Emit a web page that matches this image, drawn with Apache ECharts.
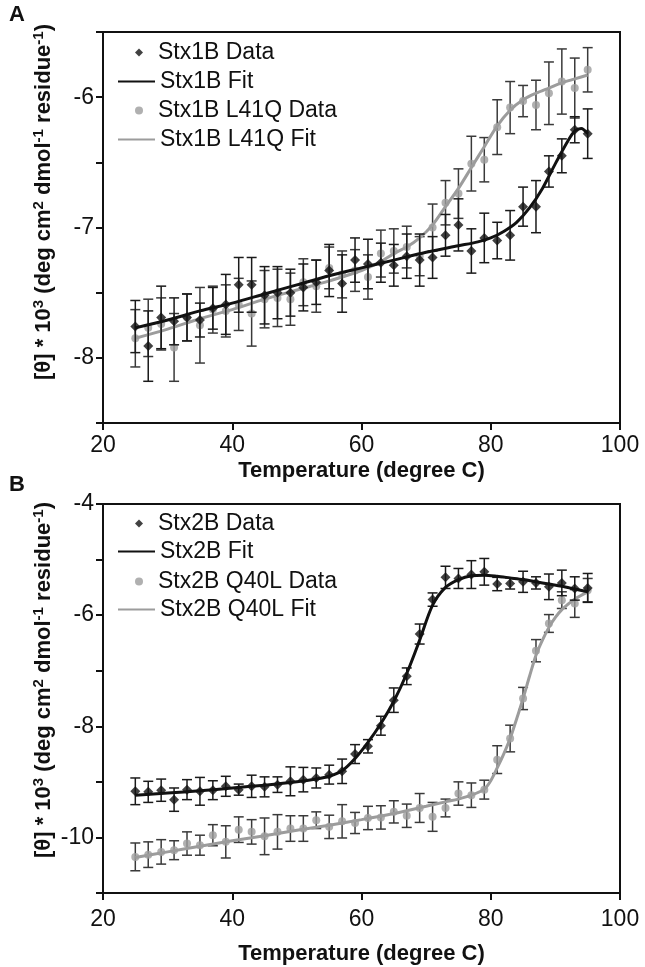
<!DOCTYPE html>
<html>
<head>
<meta charset="utf-8">
<script src="https://cdn.jsdelivr.net/npm/echarts@6/dist/echarts.min.js"></script>
<style>
  html, body { margin: 0; padding: 0; background: #fff; }
  #main { width: 645px; height: 967px; }
</style>
</head>
<body>
<div id="main"></div>
<script>
// temperatures (degree C) shared by all data sets
var temps = [25, 27, 29, 31, 33, 35, 37, 39, 41, 43, 45, 47, 49, 51, 53, 55, 57, 59,
             61, 63, 65, 67, 69, 71, 73, 75, 77, 79, 81, 83, 85, 87, 89, 91, 93, 95];

// panel A - Stx1B
var stx1bData = [-7.76, -7.91, -7.69, -7.72, -7.69, -7.71, -7.62, -7.59, -7.44, -7.44, -7.52, -7.50,
                 -7.50, -7.46, -7.42, -7.33, -7.43, -7.25, -7.28, -7.27, -7.29, -7.22, -7.25, -7.23,
                 -7.06, -6.98, -7.18, -7.08, -7.10, -7.06, -6.84, -6.84, -6.57, -6.45, -6.25, -6.28];
var stx1bErr = [0.2, 0.27, 0.24, 0.18, 0.18, 0.13, 0.16, 0.23, 0.21, 0.21, 0.22, 0.2,
                0.18, 0.18, 0.17, 0.2, 0.22, 0.17, 0.19, 0.15, 0.16, 0.17, 0.2, 0.16,
                0.16, 0.2, 0.17, 0.19, 0.14, 0.19, 0.15, 0.2, 0.12, 0.13, 0.1, 0.19];
var stx1bFitT = [25, 30, 35, 40, 45, 50, 55, 60, 65, 70, 75, 78, 80, 82, 84, 86, 88, 90, 92, 93, 94, 95];
var stx1bFitV = [-7.77, -7.71, -7.64, -7.58, -7.51, -7.44, -7.37, -7.31, -7.25, -7.19, -7.14, -7.11,
                 -7.08, -7.03, -6.96, -6.85, -6.70, -6.51, -6.33, -6.26, -6.24, -6.28];

// panel A - Stx1B L41Q
var l41qData = [-7.85, -7.77, -7.74, -7.92, -7.69, -7.75, -7.63, -7.64, -7.59, -7.66, -7.55, -7.54,
                -7.55, -7.42, -7.45, -7.31, -7.36, -7.33, -7.38, -7.20, -7.18, -7.15, -7.22, -7.00,
                -6.81, -6.74, -6.51, -6.48, -6.23, -6.08, -6.03, -6.06, -5.97, -5.88, -5.93, -5.79];
var l41qErr = [0.22, 0.22, 0.2, 0.26, 0.18, 0.29, 0.18, 0.2, 0.2, 0.25, 0.22, 0.22,
               0.2, 0.18, 0.2, 0.16, 0.18, 0.16, 0.17, 0.18, 0.17, 0.16, 0.15, 0.18,
               0.17, 0.19, 0.21, 0.17, 0.21, 0.2, 0.12, 0.19, 0.24, 0.25, 0.23, 0.17];
var l41qFitT = [25, 30, 35, 40, 45, 50, 55, 60, 63, 65, 67, 69, 71, 73, 75, 77, 79, 81, 83, 85, 87, 89, 91, 93, 95];
var l41qFitV = [-7.85, -7.78, -7.70, -7.63, -7.55, -7.48, -7.41, -7.33, -7.26, -7.20, -7.15, -7.08, -6.98,
                -6.84, -6.70, -6.54, -6.38, -6.22, -6.10, -6.02, -5.97, -5.93, -5.89, -5.86, -5.83];

// panel B - Stx2B
var stx2bData = [-9.17, -9.18, -9.15, -9.32, -9.14, -9.17, -9.15, -9.08, -9.14, -9.08, -9.09, -9.05,
                 -8.99, -8.96, -8.93, -8.87, -8.81, -8.50, -8.36, -7.99, -7.53, -7.10, -6.34, -5.72,
                 -5.32, -5.34, -5.27, -5.22, -5.44, -5.43, -5.40, -5.42, -5.49, -5.42, -5.52, -5.51];
var stx2bErr = [0.24, 0.19, 0.2, 0.21, 0.18, 0.25, 0.17, 0.18, 0.1, 0.2, 0.18, 0.14,
                0.26, 0.22, 0.18, 0.17, 0.22, 0.17, 0.12, 0.17, 0.22, 0.15, 0.18, 0.12,
                0.2, 0.18, 0.25, 0.24, 0.12, 0.1, 0.19, 0.11, 0.23, 0.23, 0.21, 0.26];
var stx2bFitT = [25, 30, 35, 40, 45, 50, 53, 55, 57, 59, 61, 63, 65, 67, 69, 71, 73, 75, 77, 79, 81, 83, 85, 87, 89, 91, 93, 95];
var stx2bFitV = [-9.24, -9.20, -9.16, -9.11, -9.06, -9.00, -8.95, -8.90, -8.80, -8.58, -8.29, -7.95, -7.55, -7.05,
                 -6.45, -5.82, -5.50, -5.36, -5.29, -5.28, -5.30, -5.33, -5.36, -5.40, -5.44, -5.48, -5.53, -5.58];

// panel B - Stx2B Q40L
var q40lData = [-10.35, -10.31, -10.26, -10.23, -10.11, -10.14, -9.96, -10.08, -9.86, -9.90, -9.98, -9.90,
                -9.84, -9.84, -9.69, -9.81, -9.71, -9.74, -9.65, -9.64, -9.54, -9.61, -9.47, -9.63,
                -9.47, -9.21, -9.24, -9.14, -8.60, -8.22, -7.50, -6.64, -6.15, -5.73, -5.79, -5.55];
var q40lErr = [0.25, 0.23, 0.22, 0.17, 0.21, 0.18, 0.19, 0.29, 0.23, 0.22, 0.33, 0.31,
               0.23, 0.23, 0.15, 0.21, 0.3, 0.19, 0.21, 0.21, 0.2, 0.21, 0.26, 0.26,
               0.16, 0.21, 0.22, 0.17, 0.25, 0.24, 0.2, 0.2, 0.16, 0.15, 0.25, 0.21];
var q40lFitT = [25, 30, 35, 40, 45, 50, 55, 60, 65, 70, 73, 75, 77, 79, 80, 81, 82, 83, 84, 85, 86, 87, 88, 89, 90, 91, 92, 93, 95];
var q40lFitV = [-10.36, -10.26, -10.16, -10.06, -9.97, -9.87, -9.78, -9.68, -9.57, -9.44, -9.36, -9.31, -9.24, -9.13,
                -8.98, -8.75, -8.50, -8.22, -7.87, -7.50, -7.10, -6.72, -6.45, -6.22, -6.04, -5.90, -5.80, -5.71, -5.58];

var xTicks = [20, 40, 60, 80, 100];

var BLACK = '#111111';
var GREY = '#9c9c9c';
var FONT = '"Liberation Sans", Arial, sans-serif';

var myChart = echarts.init(document.getElementById('main'));

function pairs(xs, ys) {
  return xs.map(function (x, i) { return [x, ys[i]]; });
}
function bars(vals, errs) {
  return temps.map(function (t, i) { return [t, vals[i] - errs[i], vals[i] + errs[i]]; });
}
// 误差棒
function errorBar(color) {
  return function (params, api) {
    var x = api.value(0);
    var top = api.coord([x, api.value(2)]);
    var bot = api.coord([x, api.value(1)]);
    var w = 5;
    var st = { stroke: color, lineWidth: 1.5 };
    return {
      type: 'group',
      children: [
        { type: 'line', shape: { x1: top[0], y1: top[1], x2: bot[0], y2: bot[1] }, style: st },
        { type: 'line', shape: { x1: top[0] - w, y1: top[1], x2: top[0] + w, y2: top[1] }, style: st },
        { type: 'line', shape: { x1: bot[0] - w, y1: bot[1], x2: bot[0] + w, y2: bot[1] }, style: st }
      ]
    };
  };
}

function xAxisOf(idx, labelMargin, nameGap) {
  return {
    gridIndex: idx, type: 'value', min: 20, max: 100, interval: 20,
    name: 'Temperature (degree C)', nameLocation: 'middle', nameGap: nameGap,
    nameTextStyle: { fontFamily: FONT, fontSize: 22, fontWeight: 'bold', color: BLACK },
    axisLine: { lineStyle: { color: BLACK, width: 2 } },
    axisTick: { inside: false, length: 7, lineStyle: { color: BLACK, width: 2 } },
    axisLabel: {
      fontFamily: FONT, fontSize: 23, color: BLACK, margin: labelMargin,
      formatter: function (v) { return xTicks.indexOf(v) >= 0 ? String(v) : ''; }
    },
    splitLine: { show: false }
  };
}
function yAxisOf(idx, min, max, interval, labelEvery) {
  return {
    gridIndex: idx, type: 'value', min: min, max: max, interval: interval,
    axisLine: { lineStyle: { color: BLACK, width: 2 } },
    axisTick: { inside: false, length: 7, lineStyle: { color: BLACK, width: 2 } },
    axisLabel: {
      fontFamily: FONT, fontSize: 23, color: BLACK, margin: 9,
      formatter: function (v) {
        return Math.abs(v / labelEvery - Math.round(v / labelEvery)) < 1e-6 ? String(v) : '';
      }
    },
    splitLine: { show: false }
  };
}

function panelSeries(idx, dark, light) {
  return [
    { name: light.name + ' err', type: 'custom', xAxisIndex: idx, yAxisIndex: idx, z: 2,
      renderItem: errorBar('#3a3a3a'), data: bars(light.vals, light.errs), silent: true },
    { name: light.name, type: 'scatter', xAxisIndex: idx, yAxisIndex: idx, z: 3,
      symbol: 'circle', symbolSize: 8, itemStyle: { color: GREY },
      data: pairs(temps, light.vals) },
    { name: light.fitName, type: 'line', xAxisIndex: idx, yAxisIndex: idx, z: 4,
      smooth: 0.3, symbol: 'none', lineStyle: { color: GREY, width: 3 }, itemStyle: { color: GREY },
      data: pairs(light.fitT, light.fitV) },
    { name: dark.name + ' err', type: 'custom', xAxisIndex: idx, yAxisIndex: idx, z: 5,
      renderItem: errorBar('#1a1a1a'), data: bars(dark.vals, dark.errs), silent: true },
    { name: dark.name, type: 'scatter', xAxisIndex: idx, yAxisIndex: idx, z: 6,
      symbol: 'diamond', symbolSize: 10, itemStyle: { color: BLACK },
      data: pairs(temps, dark.vals) },
    { name: dark.fitName, type: 'line', xAxisIndex: idx, yAxisIndex: idx, z: 7,
      smooth: 0.3, symbol: 'none', lineStyle: { color: BLACK, width: 3 }, itemStyle: { color: BLACK },
      data: pairs(dark.fitT, dark.fitV) }
  ];
}

var seriesA = panelSeries(0,
  { name: 'Stx1B Data', fitName: 'Stx1B Fit', vals: stx1bData, errs: stx1bErr, fitT: stx1bFitT, fitV: stx1bFitV },
  { name: 'Stx1B L41Q Data', fitName: 'Stx1B L41Q Fit', vals: l41qData, errs: l41qErr, fitT: l41qFitT, fitV: l41qFitV });
var seriesB = panelSeries(1,
  { name: 'Stx2B Data', fitName: 'Stx2B Fit', vals: stx2bData, errs: stx2bErr, fitT: stx2bFitT, fitV: stx2bFitV },
  { name: 'Stx2B Q40L Data', fitName: 'Stx2B Q40L Fit', vals: q40lData, errs: q40lErr, fitT: q40lFitT, fitV: q40lFitV });

// data rows (marker only) and fit rows (line only) are two legends that interleave
function dataLegend(top, names) {
  return {
    orient: 'vertical', left: 130, top: top,
    itemWidth: 8, itemHeight: 8, itemGap: 35,
    textStyle: { fontFamily: FONT, fontSize: 23, color: BLACK, padding: [0, 0, 0, 10] },
    data: names
  };
}
function fitLegend(top, names) {
  return {
    orient: 'vertical', left: 112, top: top,
    itemWidth: 37, itemHeight: 8, itemGap: 35,
    textStyle: { fontFamily: FONT, fontSize: 23, color: BLACK },
    data: names.map(function (n) { return { name: n, itemStyle: { opacity: 0 } }; })
  };
}

var yLabelRich = {
  fontFamily: FONT, fontSize: 22, fontWeight: 'bold', fill: BLACK,
  align: 'center', verticalAlign: 'middle', lineHeight: 26,
  rich: {
    s: { fontFamily: FONT, fontSize: 15, fontWeight: 'bold', fill: BLACK, verticalAlign: 'top', lineHeight: 15 }
  }
};
var yLabelText = '[θ] * 10{s|3} (deg cm{s|2} dmol{s|-1} residue{s|-1})';

var option = {
  animation: false,
  backgroundColor: '#fff',
  grid: [
    { left: 103, top: 32, width: 517, height: 391, show: true, borderColor: BLACK, borderWidth: 2 },
    { left: 103, top: 504, width: 517, height: 389, show: true, borderColor: BLACK, borderWidth: 2 }
  ],
  xAxis: [xAxisOf(0, 11, 37), xAxisOf(1, 15, 50)],
  yAxis: [yAxisOf(0, -8.5, -5.5, 0.5, 1), yAxisOf(1, -11, -4, 1, 2)],
  legend: [
    dataLegend(36, ['Stx1B Data', 'Stx1B L41Q Data']),
    fitLegend(65, ['Stx1B Fit', 'Stx1B L41Q Fit']),
    dataLegend(507, ['Stx2B Data', 'Stx2B Q40L Data']),
    fitLegend(535, ['Stx2B Fit', 'Stx2B Q40L Fit'])
  ],
  graphic: [
    { type: 'text', left: 9, top: 4, style: { text: 'A', fontFamily: FONT, fontSize: 22, fontWeight: 'bold', fill: BLACK } },
    { type: 'text', left: 9, top: 474, style: { text: 'B', fontFamily: FONT, fontSize: 22, fontWeight: 'bold', fill: BLACK } },
    { type: 'text', x: 44, y: 202, rotation: Math.PI / 2, style: Object.assign({ text: yLabelText }, yLabelRich) },
    { type: 'text', x: 44, y: 680, rotation: Math.PI / 2, style: Object.assign({ text: yLabelText }, yLabelRich) }
  ],
  series: seriesA.concat(seriesB)
};

myChart.setOption(option, true);
window.addEventListener('resize', function () { myChart.resize(); });
</script>
</body>
</html>
